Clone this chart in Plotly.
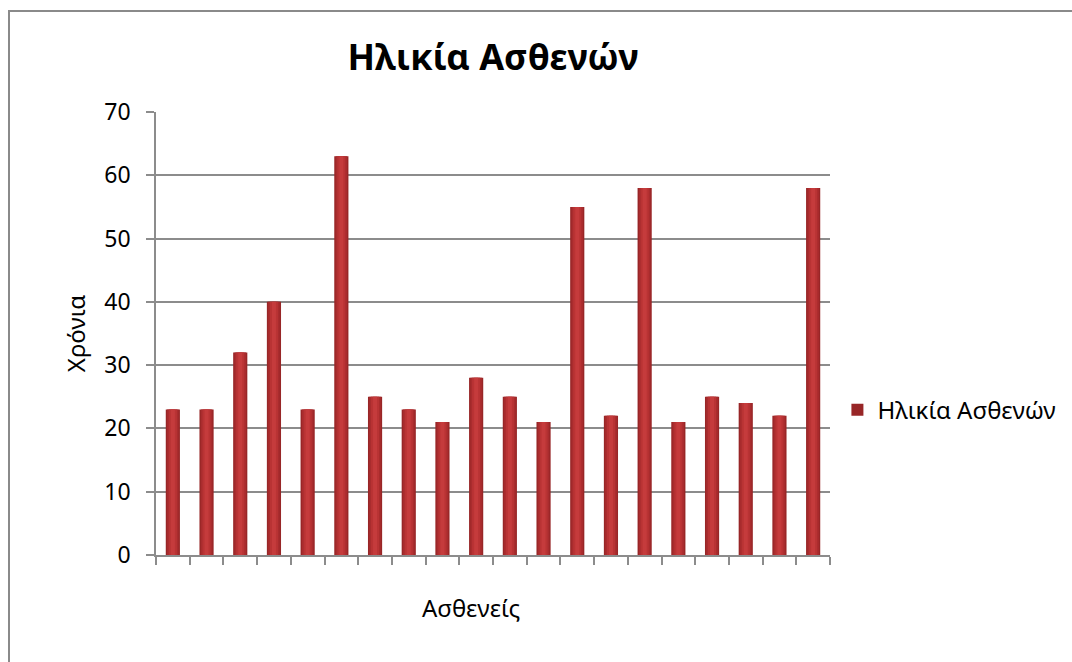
import plotly.graph_objects as go

# Patient ages, one bar per patient
patients = [f"Ασθενής {i}" for i in range(1, 21)]
ages = [23, 23, 32, 40, 23, 63, 25, 23, 21, 28, 25, 21, 55, 22, 58, 21, 25, 24, 22, 58]

series_name = "Ηλικία Ασθενών"
title_text = "Ηλικία Ασθενών"
x_title = "Ασθενείς"
y_title = "Χρόνια"

FONT = "Noto Sans"
GRID = "#8c8c8c"

fig = go.Figure()

# Layered bars of decreasing width give a shaded, cylindrical look
layers = [
    (0.42, "#982627", True),
    (0.34, "#a92c2e", False),
    (0.24, "#b93334", False),
    (0.12, "#c53b3c", False),
]
for width, color, show in layers:
    fig.add_trace(go.Bar(
        x=patients,
        y=ages,
        width=width,
        name=series_name,
        marker=dict(color=color, line=dict(width=0)),
        showlegend=show,
        hoverinfo="skip" if not show else None,
    ))

fig.update_layout(
    width=1072,
    height=662,
    barmode="overlay",
    paper_bgcolor="white",
    plot_bgcolor="white",
    margin=dict(l=156, r=242, t=112, b=107, autoexpand=False),
    font=dict(family=FONT, size=23, color="#000000"),
    title=dict(
        text=f"<b>{title_text}</b>",
        x=493 / 1072,
        xanchor="center",
        y=1 - 57 / 662,
        yanchor="middle",
        font=dict(family=FONT, size=36, color="#000000"),
    ),
    legend=dict(
        x=1.011,
        xanchor="left",
        y=0.327,
        yanchor="middle",
        font=dict(family=FONT, size=24),
        itemwidth=30,
        bgcolor="rgba(0,0,0,0)",
    ),
    xaxis=dict(
        type="category",
        showticklabels=False,
        ticks="outside",
        tickson="boundaries",
        ticklen=8,
        tickcolor=GRID,
        tickwidth=1.5,
        showline=True,
        linecolor=GRID,
        linewidth=1.5,
        showgrid=False,
    ),
    yaxis=dict(
        range=[0, 70],
        dtick=10,
        ticks="outside",
        ticklen=8,
        tickcolor=GRID,
        tickwidth=1.5,
        showline=True,
        linecolor=GRID,
        linewidth=1.5,
        showgrid=True,
        gridcolor=GRID,
        gridwidth=1.5,
        zeroline=False,
        ticklabelstandoff=11,
        tickfont=dict(family=FONT, size=23),
        title=dict(text=y_title, font=dict(family=FONT, size=24), standoff=12),
    ),
    annotations=[
        # horizontal axis title
        dict(text=x_title, xref="paper", yref="paper",
             x=(471 - 156) / 674, y=(555 - 607) / 443,
             xanchor="center", yanchor="middle", showarrow=False,
             font=dict(family=FONT, size=24, color="#000000")),
    ],
    shapes=[
        # chart frame
        dict(type="rect", xref="paper", yref="paper",
             x0=(9 - 156) / 674, x1=(1090 - 156) / 674,
             y0=(555 - 680) / 443, y1=(555 - 11) / 443,
             line=dict(color="#8a8a8a", width=2), layer="below"),
    ],
)

fig.write_html("out.html")
